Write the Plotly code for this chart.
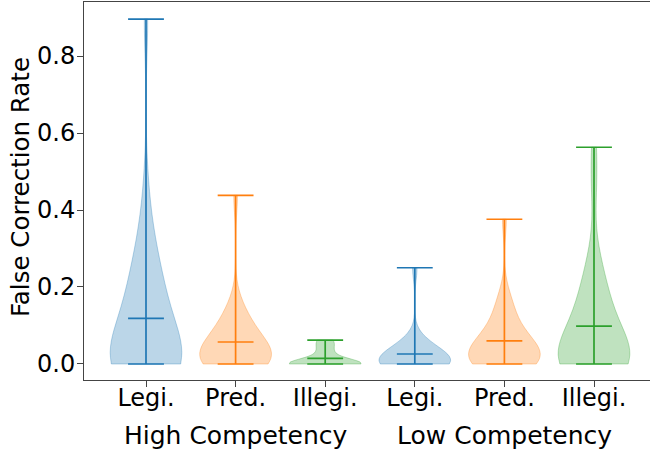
import numpy as np
import plotly.graph_objects as go

# ---- data ----
positions = [1, 2, 3, 4, 5, 6]
tick_labels = ["Legi.", "Pred.", "Illegi.", "Legi.", "Pred.", "Illegi."]
group_labels = ["High Competency", "Low Competency"]
group_positions = [2, 5]

high_legi = [0, 0, 0, 0, 0, 0, 0, 0, 0, 0, 0, 0, 0, 0, 0, 0, 0, 0.07, 0.09, 0.10,
             0.12, 0.13, 0.15, 0.16, 0.18, 0.20, 0.22, 0.24, 0.27, 0.30, 0.34, 0.44,
             0.896]
high_pred = [0, 0, 0, 0, 0, 0, 0, 0, 0, 0, 0.01, 0.02, 0.03, 0.03, 0.04, 0.04, 0.05,
             0.05, 0.06, 0.06, 0.07, 0.08, 0.10, 0.11, 0.12, 0.13, 0.16, 0.438]
high_illegi = [0, 0, 0, 0, 0, 0, 0, 0, 0, 0, 0, 0, 0.01, 0.02, 0.03, 0.04, 0.05,
               0.062, 0.062]
low_legi = [0, 0, 0, 0, 0, 0, 0, 0, 0, 0, 0, 0.01, 0.02, 0.02, 0.03, 0.04, 0.04,
            0.05, 0.06, 0.25]
low_pred = [0, 0, 0, 0, 0, 0, 0, 0, 0, 0.01, 0.02, 0.02, 0.03, 0.03, 0.04, 0.04, 0.05,
            0.05, 0.06, 0.06, 0.07, 0.08, 0.09, 0.11, 0.12, 0.14, 0.16, 0.18, 0.376]
low_illegi = [0, 0, 0, 0, 0, 0, 0, 0, 0, 0, 0, 0, 0, 0.02, 0.04, 0.05, 0.06, 0.08,
              0.09, 0.10, 0.11, 0.13, 0.15, 0.17, 0.19, 0.21, 0.24, 0.28, 0.46, 0.563]

series = [high_legi, high_pred, high_illegi, low_legi, low_pred, low_illegi]
colors = ["#1f77b4", "#ff7f0e", "#2ca02c", "#1f77b4", "#ff7f0e", "#2ca02c"]

VIOLIN_WIDTH = 0.8
FONT = "DejaVu Sans"


def rgba(hex_color, a):
    h = hex_color.lstrip("#")
    r, g, b = int(h[0:2], 16), int(h[2:4], 16), int(h[4:6], 16)
    return f"rgba({r},{g},{b},{a})"


fig = go.Figure()

# violin bodies (Gaussian KDE, Scott's rule bandwidth, clipped to data range)
for pos, vals, col in zip(positions, series, colors):
    arr = np.asarray(vals, dtype=float)
    bw = arr.std(ddof=1) * len(arr) ** (-1 / 5)
    fig.add_trace(go.Violin(
        x0=pos, y=arr, width=VIOLIN_WIDTH, scalemode="width", spanmode="hard",
        bandwidth=bw, points=False, box_visible=False, meanline_visible=False,
        fillcolor=rgba(col, 0.3), line=dict(color=rgba(col, 0.3), width=1),
        orientation="v", showlegend=False, hoverinfo="skip",
    ))

# extrema, mean and vertical bar lines
cap = VIOLIN_WIDTH / 4
for pos, vals, col in zip(positions, series, colors):
    arr = np.asarray(vals, dtype=float)
    mn, mx, mean = arr.min(), arr.max(), arr.mean()
    xs = [pos - cap, pos + cap, None, pos - cap, pos + cap, None,
          pos - cap, pos + cap, None, pos, pos]
    ys = [mx, mx, None, mn, mn, None, mean, mean, None, mn, mx]
    fig.add_trace(go.Scatter(x=xs, y=ys, mode="lines",
                             line=dict(color=col, width=1.7),
                             showlegend=False, hoverinfo="skip"))

for gp, gl in zip(group_positions, group_labels):
    fig.add_annotation(x=gp, xref="x", y=-0.103, yref="paper", yanchor="top",
                       xanchor="center", text=gl, showarrow=False,
                       font=dict(family=FONT, size=25, color="black"))

fig.add_annotation(x=(20 - 84) / 566, xref="paper", y=(380 - 187) / 378, yref="paper",
                   xanchor="center", yanchor="middle",
                   text="False Correction Rate", textangle=-90, showarrow=False,
                   font=dict(family=FONT, size=24.5, color="black"))

fig.update_layout(
    width=650, height=452,
    margin=dict(l=84, r=0, t=2, b=72),
    paper_bgcolor="white", plot_bgcolor="white",
    font=dict(family=FONT, size=24, color="black"),
    xaxis=dict(range=[0.308, 6.625], tickvals=positions, ticktext=tick_labels,
               showgrid=False, zeroline=False, showline=True, mirror=True,
               linecolor="#444", linewidth=1, ticks="outside", ticklen=6,
               tickcolor="#444", ticklabelstandoff=-10,
               tickfont=dict(family=FONT, size=24)),
    yaxis=dict(range=[-0.0416, 0.9403], tickvals=[0, 0.2, 0.4, 0.6, 0.8],
               ticktext=["0.0", "0.2", "0.4", "0.6", "0.8"],
               showgrid=False, zeroline=False, showline=True, mirror=False,
               linecolor="#444", linewidth=1, ticks="outside", ticklen=6,
               tickcolor="#444", ticklabelstandoff=-3,
               tickfont=dict(family=FONT, size=24)),
)

fig.write_html("out.html", config={"displayModeBar": False},
               post_script="document.body.style.margin='0';"
                           "document.body.style.overflow='hidden';")
